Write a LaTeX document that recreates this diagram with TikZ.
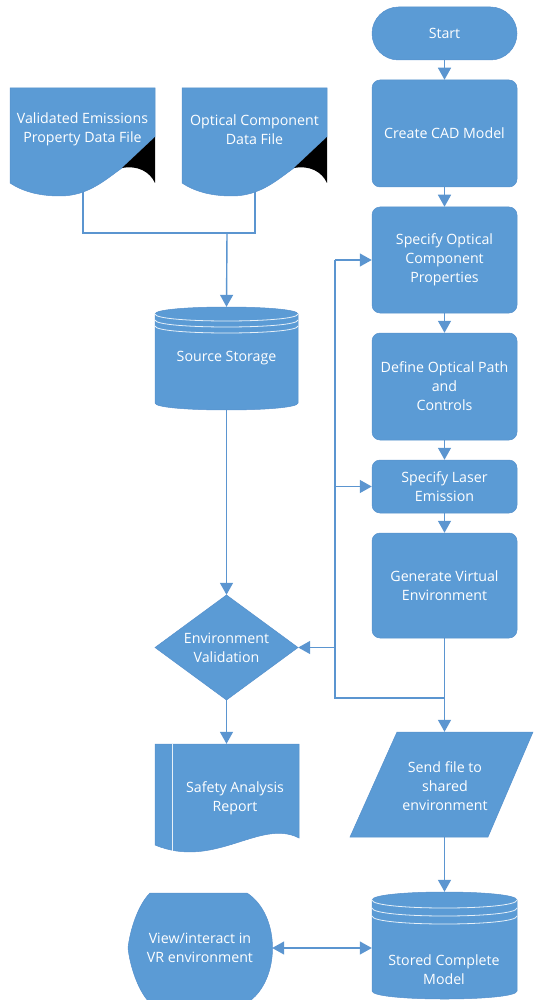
\documentclass[tikz,border=0pt]{standalone}
\usepackage{fontspec}
\setmainfont{Open Sans}
\usetikzlibrary{shapes.misc,arrows.meta,backgrounds}
\definecolor{fillb}{HTML}{5B9BD5}
\definecolor{edgeb}{HTML}{5690CC}
\definecolor{lineb}{HTML}{5B95D0}
\tikzset{
  shp/.style={fill=fillb, draw=edgeb, line width=0.5pt},
  txt/.style={text=white, align=center, inner sep=0pt, font=\fontsize{14.2}{19}\selectfont},
  proc/.style={shp, txt, rectangle, rounded corners=8pt, minimum width=145pt},
  term/.style={shp, txt, rounded rectangle, minimum width=145pt, minimum height=53pt},
  bnd/.style={rectangle, inner sep=0pt},
  conn/.style={draw=lineb, line width=1.4pt},
  arr/.style={conn, -{Triangle[width=13pt,length=12pt]}},
  darr/.style={conn, {Triangle[width=13pt,length=12pt]}-{Triangle[width=13pt,length=12pt]}},
  inl/.style={draw=white, draw opacity=0.85, line width=0.8pt},
}
\begin{document}
\begin{tikzpicture}[x=1pt,y=-1pt]
\useasboundingbox (0,0) rectangle (535,1000);

% process column
\node[term] (start) at (444.5,33.5) {Start};
\node[proc, minimum height=107pt] (cad) at (444.5,133.5) {Create CAD Model};
\node[proc, minimum height=106pt] (spec) at (444.5,260) {Specify Optical\\Component\\Properties};
\node[proc, minimum height=107pt] (def) at (444.5,386.5) {Define Optical Path\\and\\Controls};
\node[proc, minimum height=53pt] (laser) at (444.5,486.5) {Specify Laser\\Emission};
\node[proc, minimum height=105pt] (gen) at (444.5,585.5) {Generate Virtual\\Environment};

% documents
\path[shp] (10,88) -- (155,88) -- (155,137) -- (122,168)
  .. controls (105,180) and (88,196) .. (60,196)
  .. controls (38,196) and (22,191) .. (10,183) -- cycle;
\path[fill=black] (155,137) -- (122,168) .. controls (138,165) and (150,172) .. (155,183) -- cycle;
\node[txt] (d1) at (82.5,129.5) {Validated Emissions\\Property Data File};
\coordinate (d1b) at (83,188);

\path[shp] (182,88) -- (327,88) -- (327,137) -- (294,168)
  .. controls (277,180) and (260,196) .. (232,196)
  .. controls (210,196) and (194,191) .. (182,183) -- cycle;
\path[fill=black] (327,137) -- (294,168) .. controls (310,165) and (322,172) .. (327,183) -- cycle;
\node[txt] (d2) at (254.5,129.5) {Optical Component\\Data File};
\coordinate (d2b) at (255,188);
\coordinate (jn) at (227,233);

% source storage
\path[shp] (155,314) .. controls (155,304.67) and (298,304.67) .. (298,314) -- (298,403)
  .. controls (298,412.33) and (155,412.33) .. (155,403) -- cycle;
\draw[inl] (155,314) .. controls (155,323.33) and (298,323.33) .. (298,314);
\draw[inl] (155,320) .. controls (155,329.33) and (298,329.33) .. (298,320);
\draw[inl] (155,326) .. controls (155,335.33) and (298,335.33) .. (298,326);
\node[bnd, txt, minimum width=143pt, minimum height=103pt] (src) at (226.5,358.5) {Source Storage};

% decision
\path[shp] (155,647.5) -- (226.5,595) -- (298,647.5) -- (226.5,700) -- cycle;
\node[bnd, txt, minimum width=143pt, minimum height=105pt] (val) at (226.5,647.5) {Environment\\Validation};

% safety analysis report
\path[shp] (155,744) -- (299,744) -- (299,838)
  .. controls (260,818) and (215,870) .. (155,845) -- cycle;
\draw[inl] (172,744) -- (172,851);
\node[bnd, minimum width=144pt, minimum height=94pt] (sar) at (227,791) {};
\node[txt] (sart) at (235,798) {Safety Analysis\\Report};

% send file (parallelogram)
\path[shp] (397,732) -- (533,732) -- (488,837) -- (350,837) -- cycle;
\node[bnd, minimum width=183pt, minimum height=105pt] (send) at (441.5,784.5) {};
\node[txt] (sendt) at (445,786) {Send file to\\shared\\environment};

% stored complete model
\path[shp] (372,900) .. controls (372,889.33) and (517,889.33) .. (517,900) -- (517,991)
  .. controls (517,1001.67) and (372,1001.67) .. (372,991) -- cycle;
\draw[inl] (372,900) .. controls (372,910.67) and (517,910.67) .. (517,900);
\draw[inl] (372,908) .. controls (372,918.67) and (517,918.67) .. (517,908);
\draw[inl] (372,916) .. controls (372,926.67) and (517,926.67) .. (517,916);
\node[bnd, minimum width=145pt, minimum height=107pt] (stored) at (444.5,945.5) {};
\node[txt] (storedt) at (444,970) {Stored Complete\\Model};

% display shape
\path[shp] (150,893) -- (247,893) .. controls (281,915) and (281,981) .. (247,1003)
  -- (150,1003) .. controls (138,991) and (130,966) .. (128,948)
  .. controls (130,930) and (138,905) .. (150,893) -- cycle;
\node[bnd, txt, minimum width=144pt, minimum height=110pt] (vr) at (200,948) {View/interact in\\VR environment};

% feedback coordinates
\coordinate (fbB) at (335,698);
\coordinate (fbT) at (335,260);

\begin{scope}[on background layer]
\draw[arr] (start.south) -- (cad.north);
\draw[arr] (cad.south) -- (spec.north);
\draw[arr] (spec.south) -- (def.north);
\draw[arr] (def.south) -- (laser.north);
\draw[arr] (laser.south) -- (gen.north);
\draw[arr] (gen.south) -- (gen.south |- send.north);
\draw[arr] (gen.south |- send.south) -- (gen.south |- stored.north);
\draw[conn] (gen.south |- fbB) -- (fbB) -- (fbT);
\draw[arr] (fbT) -- (spec.west);
\draw[arr] (fbT |- laser.west) -- (laser.west);
\draw[arr] (fbT |- val.east) -- (val.east);
\draw[conn] (d1b) |- (jn) -| (d2b);
\draw[arr] (jn) -- (src.north);
\draw[arr] (src.south) -- (val.north);
\draw[arr] (val.south) -- (val.south |- sar.north);
\draw[darr] (vr.east) -- (vr.east -| stored.west);
\end{scope}
\end{tikzpicture}
\end{document}
